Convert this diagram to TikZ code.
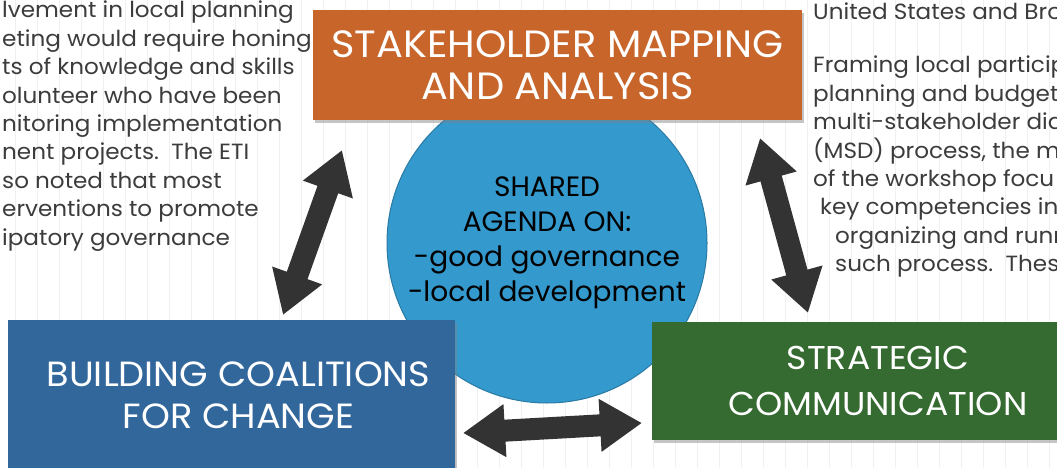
\documentclass[tikz,border=0pt]{standalone}
\usepackage{fontspec}
\setmainfont{Poppins}
\newfontfamily\widefont{Poppins}[FakeStretch=1.05]
\usetikzlibrary{arrows.meta}
\usetikzlibrary{shadows}

\definecolor{mapcolor}{HTML}{C8652A}
\definecolor{agendacolor}{HTML}{3499CD}
\definecolor{coalcolor}{HTML}{32679B}
\definecolor{commcolor}{HTML}{356A31}
\definecolor{arrowgray}{HTML}{333333}
\definecolor{gridgray}{HTML}{F0F0F0}
\definecolor{notegray}{HTML}{3C3C3C}

\tikzset{
  theme/.style={fill=#1,text=white,align=center,inner sep=0pt,
    drop shadow={shadow xshift=2pt,shadow yshift=-3pt,opacity=.45}},
  note/.style={text=notegray,align=left,inner sep=0pt,anchor=north west,
    font=\widefont\fontsize{22}{28.4}\selectfont},
  twoway/.style={draw=arrowgray,line width=22pt,
    {Triangle[width=50pt,length=42pt]}-{Triangle[width=50pt,length=42pt]}}
}

\begin{document}
\begin{tikzpicture}[x=1pt,y=-1pt]
    \clip (0,0) rectangle (1057,468);
    \fill[white] (0,0) rectangle (1057,468);
    \draw[gridgray,line width=.75pt,step=22,xshift=15pt,yshift=-4pt] (-22,-22) grid (1056,478);

    % text behind the cycle
    \node[note] (leftnote) at (2,1) {lvement in local planning\\eting would require honing\\ts of knowledge and skills\\olunteer who have been\\nitoring implementation\\nent projects.\ \ The ETI\\so noted that most\\erventions to promote\\ipatory governance};
    \node[note] (usnote) at (813,3) {United States and Bro};
    \node[note] (msdnote) at (813,56) {Framing local particip\\planning and budget\\multi-stakeholder dia\\(MSD) process, the m\\of the workshop focu\\\hspace*{7pt}key competencies in\\\hspace*{22pt}organizing and runn\\\hspace*{22pt}such process.\ \ These};

    % cycle
    \node[circle,fill=agendacolor,draw=agendacolor!80!black,line width=1pt,minimum size=320pt,
      align=center,font=\fontsize{28}{35}\selectfont] (agenda) at (547,243)
      {SHARED\\AGENDA ON:\\-good governance\\-local development};
    \node[theme=mapcolor,minimum width=489pt,minimum height=110pt,
      font=\widefont\fontsize{38}{42}\selectfont] (map) at (557.5,65)
      {STAKEHOLDER MAPPING\\AND ANALYSIS};
    \node[theme=coalcolor,minimum width=447pt,minimum height=150pt,
      font=\widefont\fontsize{35}{42}\selectfont] (coal) at (231.5,395)
      {\hspace*{14pt}BUILDING COALITIONS\\\hspace*{14pt}FOR CHANGE};
    \node[theme=commcolor,minimum width=452pt,minimum height=118pt,
      font=\widefont\fontsize{33}{46}\selectfont] (comm) at (878,381)
      {STRATEGIC\\COMMUNICATION};

    \coordinate (lbot) at (283,315);
    \coordinate (ltop) at (342,150);
    \coordinate (rtop) at (760,138);
    \coordinate (rbot) at (808,313);
    \coordinate (bleft) at (463,433);
    \coordinate (bright) at (642,423);
    \draw[twoway] (lbot) -- (ltop);
    \draw[twoway] (rtop) -- (rbot);
    \draw[twoway] (bleft) -- (bright);
\end{tikzpicture}
\end{document}
